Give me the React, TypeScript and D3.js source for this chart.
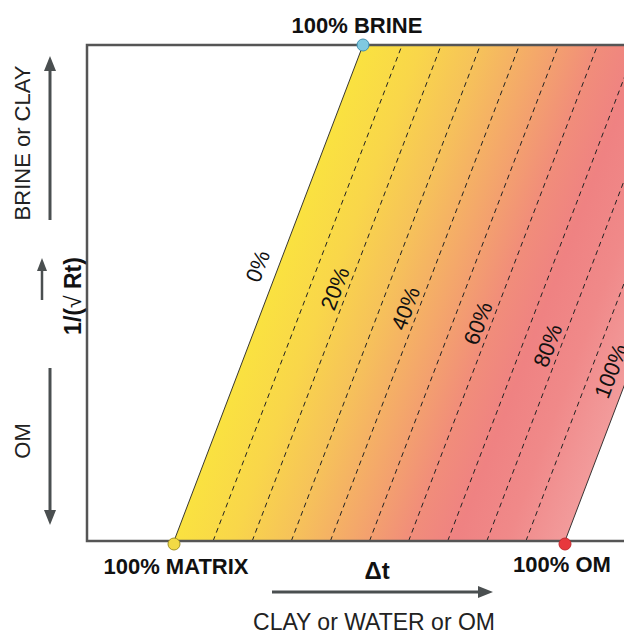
import { useMemo } from 'react'
import * as d3 from 'd3'

// fraction of OM across the band (0 = matrix line, 1 = OM line)
const ISO_LINES = [0, 0.1, 0.2, 0.3, 0.4, 0.5, 0.6, 0.7, 0.8, 0.9, 1]
const ISO_LABELS = ['0%', '20%', '40%', '60%', '80%', '100%']
const ISO_LABEL_FRAC = [0, 0.2, 0.4, 0.6, 0.8, 1]
const ISO_LABEL_HEIGHT = [0.54, 0.5, 0.46, 0.43, 0.385, 0.33]
const ISO_LABEL_GAP = [12, 5, 5, 5, 5, 10]

// brine end member sits this far to the right (in Δt units) of the matrix point
const BRINE_SHIFT = 0.4834

const END_MEMBERS = ['100% MATRIX', '100% OM', '100% BRINE']
const END_FRAC = [0, 1, 0]
const END_HEIGHT = [0, 0, 1]
const END_FILL = ['#f2da45', '#e8383d', '#80c9e0']
const END_STROKE = ['#a39326', '#c42a2f', '#3f8fb0']

const GRADIENT_STOPS = [
  { offset: 0, color: '#fae240' },
  { offset: 0.15, color: '#f9d64a' },
  { offset: 0.3, color: '#f6c25a' },
  { offset: 0.45, color: '#f4a86a' },
  { offset: 0.6, color: '#f18d7a' },
  { offset: 0.72, color: '#ef8282' },
  { offset: 0.85, color: '#f08989' },
  { offset: 1, color: '#f29b9b' },
]

const FONT = '"Liberation Sans", Arial, Helvetica, sans-serif'
const DARK = '#4a4f50'

function arrowHead(x: number, y: number, dir: 'up' | 'down' | 'right', len = 15, half = 6) {
  if (dir === 'up') return `M${x},${y} L${x - half},${y + len} L${x + half},${y + len} Z`
  if (dir === 'down') return `M${x},${y} L${x - half},${y - len} L${x + half},${y - len} Z`
  return `M${x},${y} L${x - len},${y - half} L${x - len},${y + half} Z`
}

export default function App() {
  const W = 624
  const H = 633

  const x = useMemo(() => d3.scaleLinear().domain([0, 1]).range([174, 565]), [])
  const y = useMemo(() => d3.scaleLinear().domain([0, 1]).range([541, 45]), [])
  const px = (f: number, v: number) => x(f + BRINE_SHIFT * v)
  const py = (v: number) => y(v)

  const angle = (Math.atan2(py(1) - py(0), px(0, 1) - px(0, 0)) * 180) / Math.PI

  const band = d3.line<[number, number]>()([
    [px(0, 0), py(0)],
    [px(1, 0), py(0)],
    [px(1, 1), py(1)],
    [px(0, 1), py(1)],
  ]) + 'Z'

  // gradient runs perpendicular to the iso lines
  const dx = px(0, 1) - px(0, 0)
  const dy = py(1) - py(0)
  const len = Math.hypot(dx, dy)
  const nx = -dy / len
  const ny = dx / len
  const span = (px(1, 0) - px(0, 0)) * nx
  const g1 = { x: px(0, 0), y: py(0) }
  const g2 = { x: g1.x + nx * span, y: g1.y + ny * span }

  const frameLeft = x(-0.2225)
  const frameRight = x(1.3)

  return (
    <div style={{ position: 'fixed', left: 0, top: 0, background: '#fff' }}>
      <svg width={W} height={H} style={{ display: 'block' }} fontFamily={FONT}>
        <defs>
          <linearGradient id="band" gradientUnits="userSpaceOnUse" x1={g1.x} y1={g1.y} x2={g2.x} y2={g2.y}>
            {GRADIENT_STOPS.map(s => (
              <stop key={s.offset} offset={s.offset} stopColor={s.color} />
            ))}
          </linearGradient>
        </defs>
        <rect width={W} height={H} fill="#fff" />

        <path d={band} fill="url(#band)" />

        {ISO_LINES.map(f => {
          const edge = f === 0 || f === 1
          return (
            <line
              key={f}
              x1={px(f, 0)} y1={py(0)} x2={px(f, 1)} y2={py(1)}
              stroke="#222"
              strokeWidth={edge ? 0.9 : 1}
              strokeDasharray={edge ? undefined : '5,4'}
            />
          )
        })}

        {ISO_LABELS.map((t, i) => {
          const f = ISO_LABEL_FRAC[i]
          const v = ISO_LABEL_HEIGHT[i]
          return (
            <text
              key={t}
              transform={`translate(${px(f, v)},${py(v)}) rotate(${angle})`}
              dy={-ISO_LABEL_GAP[i]}
              textAnchor="middle"
              fontSize={22}
              fill="#111"
            >{t}</text>
          )
        })}

        <rect
          x={frameLeft} y={y(1)} width={frameRight - frameLeft} height={y(0) - y(1)}
          fill="none" stroke="#555" strokeWidth={2.5}
        />

        {END_MEMBERS.map((name, i) => (
          <circle
            key={name}
            cx={px(END_FRAC[i], END_HEIGHT[i])}
            cy={py(END_HEIGHT[i]) + (END_HEIGHT[i] === 0 ? 3 : 0)}
            r={6}
            fill={END_FILL[i]}
            stroke={END_STROKE[i]}
            strokeWidth={1}
          />
        ))}

        <text x={357} y={33} textAnchor="middle" fontSize={22} fontWeight="bold" fill="#111">100% BRINE</text>
        <text x={176} y={574} textAnchor="middle" fontSize={22} fontWeight="bold" fill="#111">100% MATRIX</text>
        <text x={562} y={572} textAnchor="middle" fontSize={22} fontWeight="bold" fill="#111">100% OM</text>
        <text x={377} y={579} textAnchor="middle" fontSize={24} fontWeight="bold" fill="#111">Δt</text>

        <line x1={272} y1={592} x2={480} y2={592} stroke={DARK} strokeWidth={3} />
        <path d={arrowHead(493, 592, 'right')} fill={DARK} />
        <text x={374} y={630} textAnchor="middle" fontSize={23} fill="#222">CLAY or WATER or OM</text>

        <text transform="translate(30,143) rotate(-90)" textAnchor="middle" fontSize={22} fill="#222">BRINE or CLAY</text>
        <line x1={50} y1={220} x2={50} y2={70} stroke={DARK} strokeWidth={3} />
        <path d={arrowHead(50, 56, 'up')} fill={DARK} />

        <text transform="translate(81,296) rotate(-90)" textAnchor="middle" fontSize={23} fontWeight="bold" fill="#111">
          1/(<tspan fontWeight="normal">√</tspan> Rt)
        </text>
        <line x1={42} y1={300} x2={42} y2={270} stroke={DARK} strokeWidth={2.5} />
        <path d={arrowHead(42, 258, 'up', 13, 5)} fill={DARK} />

        <text transform="translate(30,441) rotate(-90)" textAnchor="middle" fontSize={22} fill="#222">OM</text>
        <line x1={50} y1={368} x2={50} y2={512} stroke={DARK} strokeWidth={3} />
        <path d={arrowHead(50, 525, 'down')} fill={DARK} />
      </svg>
    </div>
  )
}
